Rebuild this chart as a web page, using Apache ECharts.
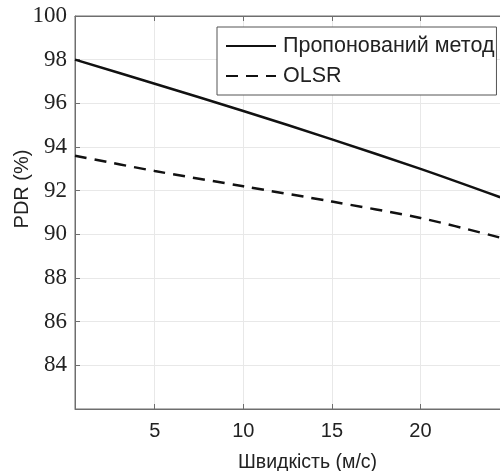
<!DOCTYPE html>
<html>
<head>
<meta charset="utf-8">
<script src="https://cdn.jsdelivr.net/npm/echarts@6/dist/echarts.min.js"></script>
<style>
  html, body { margin: 0; padding: 0; background: #fff; }
  #chart { width: 500px; height: 471px; }
</style>
</head>
<body>
<div id="chart"></div>
<script>
// speed (m/s) and PDR (%)
const speeds = [0.5, 5, 10, 15, 20, 24.5];
const proposed = [98.0, 96.9, 95.65, 94.35, 93.0, 91.7];
const olsr = [93.6, 92.9, 92.2, 91.5, 90.75, 89.85];
const seriesNames = ['Пропонований метод', 'OLSR'];

const toPairs = vals => speeds.map((s, i) => [s, vals[i]]);

const axisGray = '#6e6e6e';
const gridGray = '#e8e8e8';

const option = {
  animation: false,
  backgroundColor: '#fff',
  grid: {
    left: 75,
    right: -2,
    top: 16,
    bottom: 62,
    outerBoundsMode: 'none',
    containLabel: false,
    show: true,
    borderColor: axisGray,
    borderWidth: 1,
  },
  legend: {
    orient: 'vertical',
    left: 217,
    top: 27,
    itemWidth: 50,
    itemHeight: 14,
    itemGap: 8,
    padding: [8, 2, 8, 8],
    backgroundColor: '#fff',
    borderColor: '#555',
    borderWidth: 1,
    borderRadius: 0,
    itemStyle: { opacity: 0 },
    textStyle: { fontFamily: 'Liberation Sans', fontSize: 21.5, color: '#222', padding: [0, 0, 0, 2] },
    data: seriesNames,
  },
  xAxis: [
    {
      type: 'value',
      min: 0.5,
      max: 24.6,
      splitNumber: 5,
      name: 'Швидкість (м/с)',
      nameLocation: 'middle',
      nameGap: 44,
      nameMoveOverlap: false,
      nameTextStyle: { fontFamily: 'Liberation Sans', fontSize: 19.5, color: '#222', padding: [0, 0, 0, 38] },
      axisLine: { show: true, lineStyle: { color: axisGray } },
      axisTick: { show: true, inside: true, length: 5, lineStyle: { color: axisGray } },
      axisLabel: {
        fontFamily: 'Liberation Sans', fontSize: 20, color: '#222', margin: 12,
        formatter: v => (v % 5 === 0 ? String(v) : ''),
      },
      splitLine: { show: true, lineStyle: { color: gridGray } },
    },
    {
      type: 'value',
      position: 'top',
      min: 0.5,
      max: 24.6,
      splitNumber: 5,
      axisLine: { show: true, lineStyle: { color: axisGray } },
      axisTick: { show: true, inside: true, length: 5, lineStyle: { color: axisGray } },
      axisLabel: { show: false },
      splitLine: { show: false },
    },
  ],
  yAxis: {
    type: 'value',
    min: 82,
    max: 100,
    interval: 2,
    name: 'PDR (%)',
    nameLocation: 'middle',
    nameGap: 43,
    nameMoveOverlap: false,
    nameTextStyle: { fontFamily: 'Liberation Sans', fontSize: 20, color: '#222', padding: [0, 0, 0, 47] },
    axisLine: { show: true, lineStyle: { color: axisGray } },
    axisTick: { show: true, inside: true, length: 5, lineStyle: { color: axisGray } },
    axisLabel: {
      fontFamily: 'Liberation Serif', fontSize: 23, color: '#222', margin: 8,
      formatter: v => (v === 82 ? '' : String(v)),
    },
    splitLine: { show: true, lineStyle: { color: gridGray } },
  },
  series: [
    {
      name: seriesNames[0],
      type: 'line',
      data: toPairs(proposed),
      showSymbol: false,
      symbol: 'none',
      smooth: 0.3,
      lineStyle: { color: '#111', width: 2.5, type: 'solid' },
      itemStyle: { color: '#111' },
    },
    {
      name: seriesNames[1],
      type: 'line',
      data: toPairs(olsr),
      showSymbol: false,
      symbol: 'none',
      smooth: 0.3,
      lineStyle: { color: '#111', width: 2.5, type: [12, 8] },
      itemStyle: { color: '#111' },
    },
  ],
};

echarts.init(document.getElementById('chart')).setOption(option);
</script>
</body>
</html>
